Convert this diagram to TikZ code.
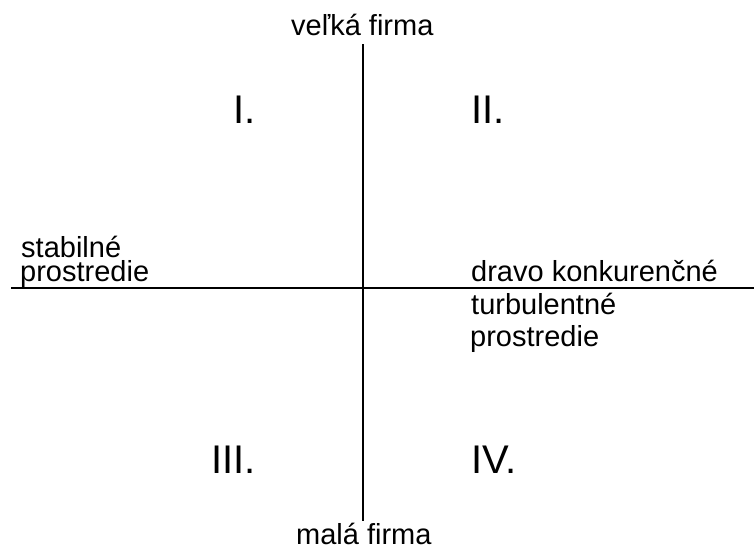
\documentclass[tikz,border=0pt]{standalone}
\usepackage{fontspec}
\setmainfont{Liberation Sans}
\begin{document}
\begin{tikzpicture}[x=1pt,y=-1pt,
  axis/.style={line width=2pt},
  label/.style={anchor=base west,inner sep=0pt,font=\fontsize{29}{29}\selectfont},
  quad/.style={anchor=base west,inner sep=0pt,font=\fontsize{40}{40}\selectfont}]
\useasboundingbox (0,0) rectangle (754,554);
% axes
\coordinate (top) at (363,44);
\coordinate (bottom) at (363,521);
\coordinate (left) at (11,288);
\coordinate (right) at (754,288);
\draw[axis] (top) -- (bottom);
\draw[axis] (left) -- (right);
% axis labels
\node[label] (big) at (291,35) {veľká firma};
\node[label] (small) at (296,544) {malá firma};
\node[label] (stab1) at (21,257) {stabilné};
\node[label] (stab2) at (20,281) {prostredie};
\node[label] (turb1) at (471,281) {dravo konkurenčné};
\node[label] (turb2) at (471,314) {turbulentné};
\node[label] (turb3) at (470,346) {prostredie};
% quadrants
\node[quad] (q1) at (233,123) {I.};
\node[quad] (q2) at (471,123) {II.};
\node[quad] (q3) at (211,473) {III.};
\node[quad] (q4) at (471,473) {IV.};
\end{tikzpicture}
\end{document}
